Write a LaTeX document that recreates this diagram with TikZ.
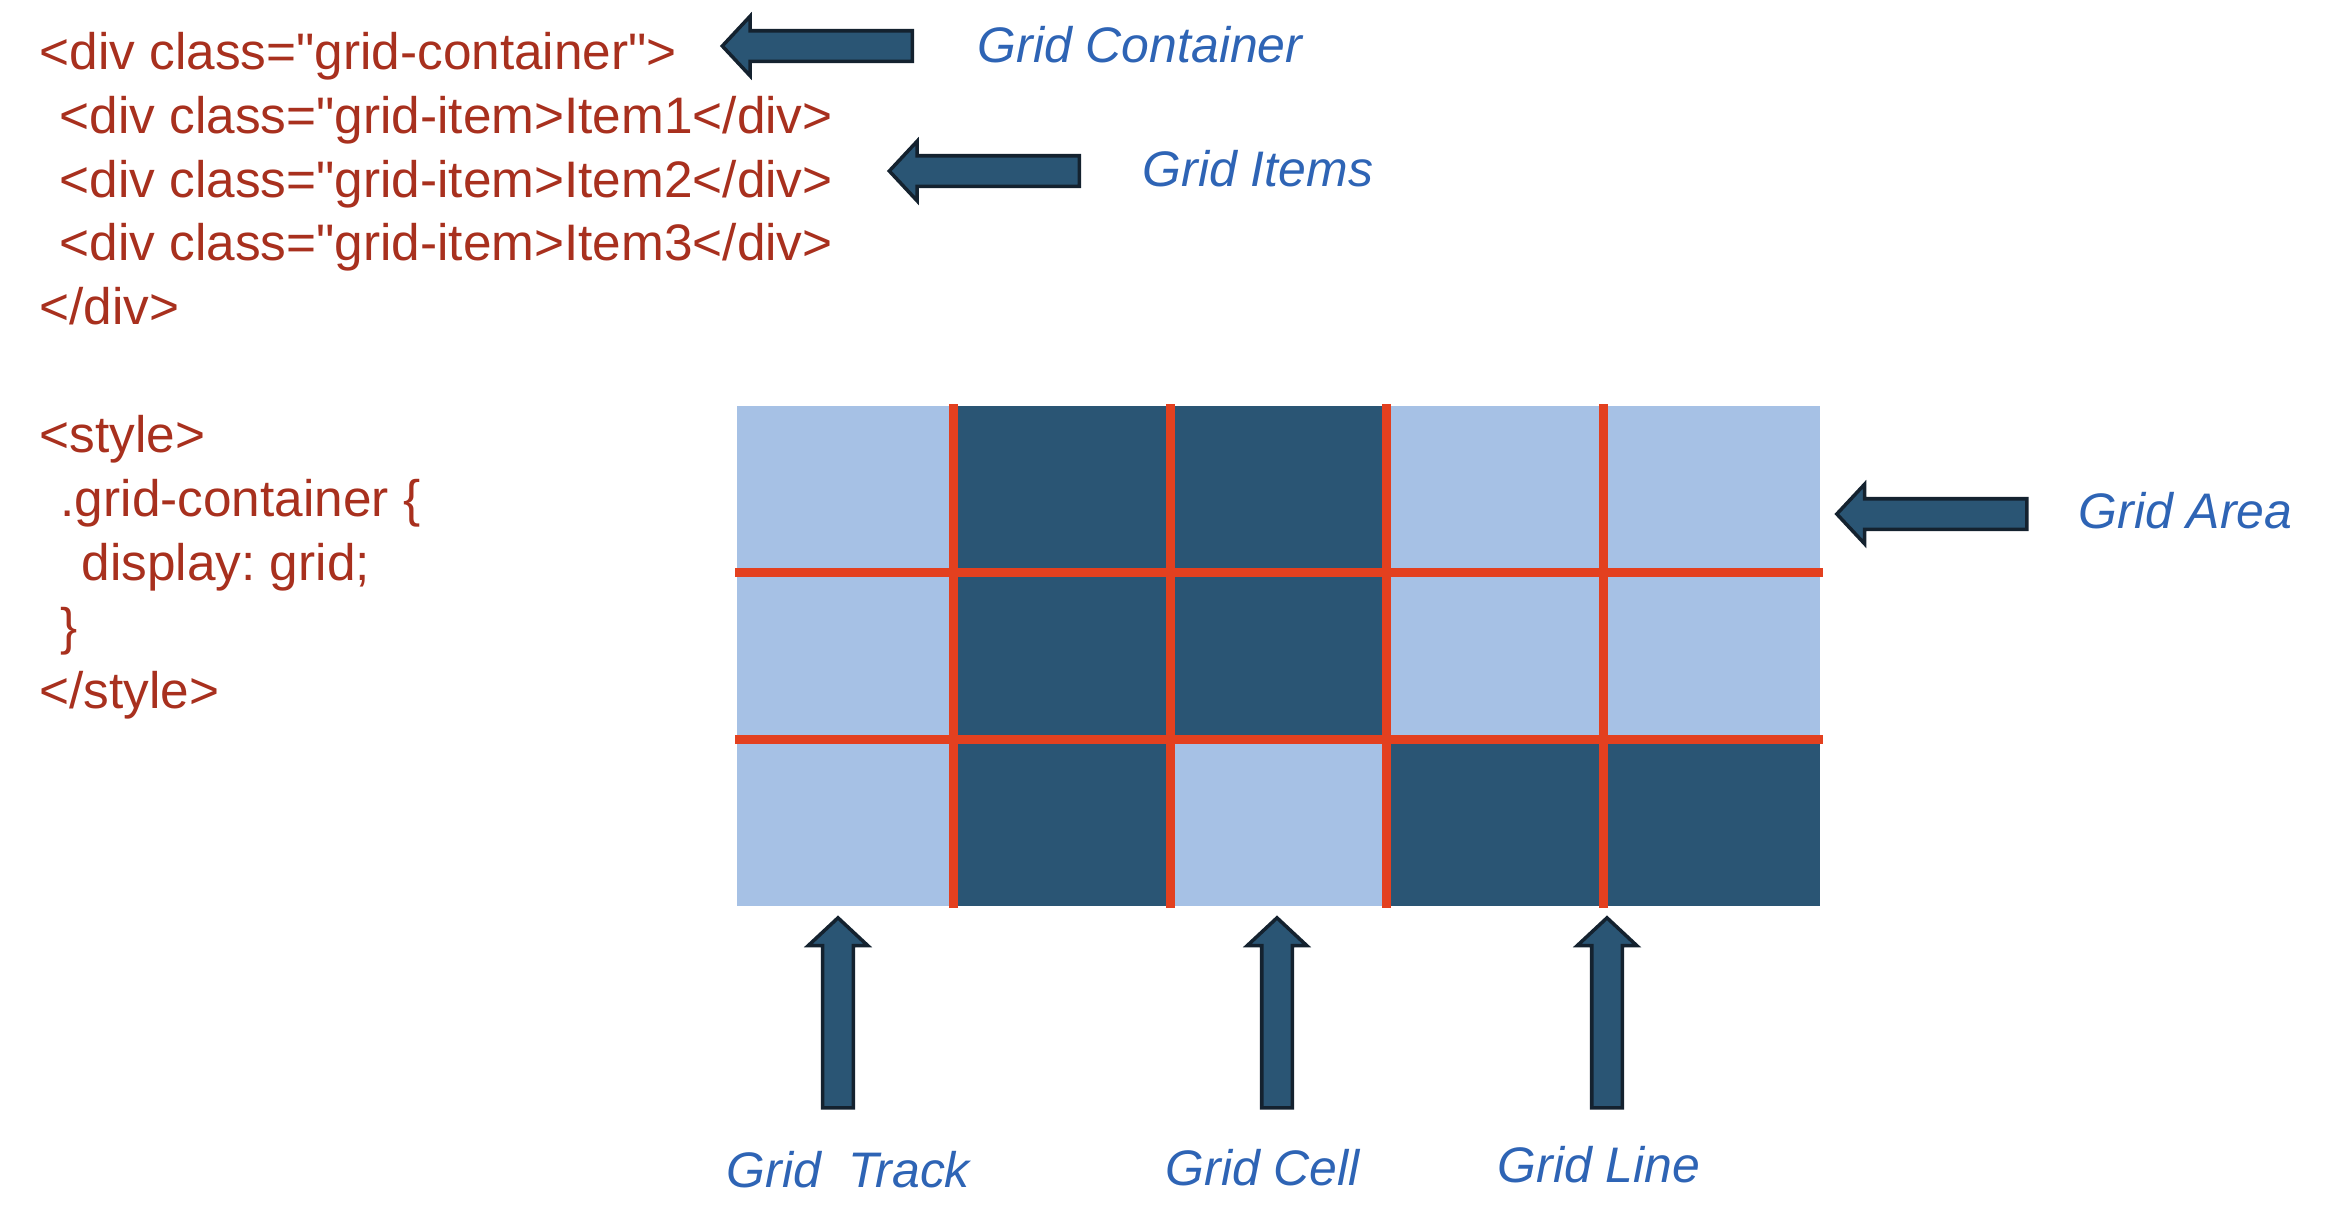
\documentclass[tikz,border=0pt]{standalone}
\usepackage{fontspec}
\setmainfont{Liberation Sans}
\usetikzlibrary{
	shapes.arrows,
	positioning
}
\frenchspacing
\definecolor{codered}{HTML}{A8301E}
\definecolor{labelblue}{HTML}{2E64B5}
\definecolor{celllight}{HTML}{A6C1E5}
\definecolor{celldark}{HTML}{2A5574}
\definecolor{gridred}{HTML}{E3401F}
\definecolor{arrowedge}{HTML}{14222F}

\tikzstyle{code} = [anchor=base west, inner sep=0pt, text=codered, font=\fontsize{14.6}{18}\selectfont]
\tikzstyle{gridlabel} = [anchor=base west, inner sep=0pt, text=labelblue, font=\fontsize{14.2}{17}\selectfont\itshape]
\tikzstyle{blockarrow} = [single arrow, draw=arrowedge, fill=celldark, line width=1pt, inner xsep=0pt, inner ysep=0.135cm,
	minimum height=1.9cm, single arrow head extend=0.145cm, single arrow tip angle=94]
\tikzstyle{gridline} = [draw=gridred, line width=2.6pt]

\begin{document}
\begin{tikzpicture}[x=0.01cm, y=-0.01cm]
		
		\useasboundingbox (0,0) rectangle (2326,1220);
		
		% ====== Code HTML ======
		\node[code] (div1) at (39,69) {<div class=\textquotedbl grid-container\textquotedbl>};
		\node[code] (item1) at (59,133) {<div class=\textquotedbl grid-item>Item1</div>};
		\node[code] (item2) at (59,197) {<div class=\textquotedbl grid-item>Item2</div>};
		\node[code] (item3) at (59,260) {<div class=\textquotedbl grid-item>Item3</div>};
		\node[code] (div2) at (39,324) {</div>};
		
		% ====== Code CSS ======
		\node[code] (style1) at (39,452) {<style>};
		\node[code] (rule1) at (60,516) {.grid-container \{};
		\node[code] (rule2) at (81,580) {display: grid;};
		\node[code] (rule3) at (60,644) {\}};
		\node[code] (style2) at (39,708) {</style>};
		
		% ====== Grille ======
		\fill[celllight] (737,406) rectangle (1820,906);
		\fill[celldark] (953.6,406) rectangle (1386.8,739.3);
		\fill[celldark] (953.6,739.3) rectangle (1170.2,906);
		\fill[celldark] (1386.8,739.3) rectangle (1820,906);
		
		\foreach \k in {1,...,4}
		\draw[gridline] ({737+\k*216.6},404) -- ({737+\k*216.6},908);
		\foreach \k in {1,2}
		\draw[gridline] (735,{406+\k*166.67}) -- (1823,{406+\k*166.67});
		
		% ====== Fleches ======
		\node[blockarrow, rotate=180] (acont) at (824.5,46) {};
		\node[blockarrow, rotate=180] (aitems) at (991.5,171) {};
		\node[blockarrow, rotate=180] (aarea) at (1939,514) {};
		\node[blockarrow, rotate=90] (atrack) at (838,1020) {};
		\node[blockarrow, rotate=90] (acell) at (1277,1020) {};
		\node[blockarrow, rotate=90] (aline) at (1607,1020) {};
		
		% ====== Legendes ======
		\node[gridlabel] (lcont) at (977,62) {Grid Container};
		\node[gridlabel] (litems) at (1142,186) {Grid Items};
		\node[gridlabel] (larea) at (2078,528) {Grid Area};
		\node[gridlabel] (ltrack) at (726,1187) {Grid\ \ Track};
		\node[gridlabel] (lcell) at (1165,1185) {Grid Cell};
		\node[gridlabel] (lline) at (1497,1182) {Grid Line};
		
	\end{tikzpicture}
\end{document}
